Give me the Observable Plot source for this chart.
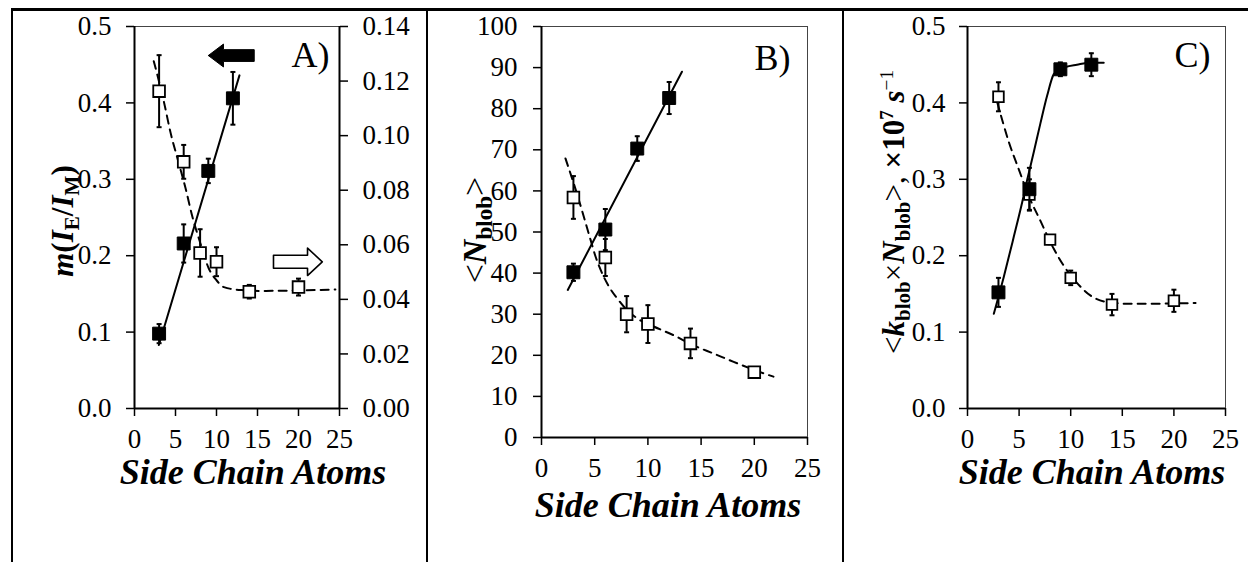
<!DOCTYPE html>
<html><head><meta charset="utf-8">
<script src="https://cdn.jsdelivr.net/npm/d3@7"></script>
<script src="https://cdn.jsdelivr.net/npm/@observablehq/plot@0.6"></script>
<style>
html,body{margin:0;padding:0;background:#fff;}
#wrap{position:relative;width:1248px;height:562px;overflow:hidden;font-family:"Liberation Serif","Times New Roman",serif;color:#000;background:#fff;}
.line{position:absolute;background:#000;z-index:3;}
.xt{position:absolute;font-weight:bold;font-style:italic;font-size:36px;line-height:1;white-space:nowrap;transform:translateX(-50%);z-index:2;}
.yt{position:absolute;line-height:1;white-space:nowrap;transform:translate(-50%,-50%) rotate(-90deg);z-index:2;}
.sb{font-size:0.68em;position:relative;top:0.28em;}
.sp{font-size:0.62em;position:relative;top:-0.55em;}
</style></head>
<body>
<div id="wrap">
  <div class="line" style="left:11px;top:8px;right:0;height:3px;"></div>
  <div class="line" style="left:11px;top:8px;width:2px;bottom:0;"></div>
  <div class="line" style="left:426px;top:8px;width:2px;bottom:0;"></div>
  <div class="line" style="left:842px;top:8px;width:2px;bottom:0;"></div>

  <div class="xt" style="left:253px;top:454px;">Side Chain Atoms</div>
  <div class="xt" style="left:668px;top:487px;">Side Chain Atoms</div>
  <div class="xt" style="left:1092px;top:454px;">Side Chain Atoms</div>

  <div class="yt" style="left:62px;top:221px;font-size:31px;"><b><i>m</i>(<i>I</i><span class="sb">E</span>/<i>I</i><span class="sb">M</span>)</b></div>
  <div class="yt" style="left:475px;top:230px;font-size:34px;">&lt;<b><i>N</i><span class="sb">blob</span></b>&gt;</div>
  <div class="yt" style="left:893px;top:212px;font-size:31px;">&lt;<b><i>k</i><span class="sb">blob</span></b>×<b><i>N</i><span class="sb">blob</span></b>&gt;, <b>×10<span class="sp">7</span></b> <b><i>s</i></b><span class="sp">−1</span></div>
</div>
<script>
// ---------- data ----------
const xTicks = [0, 5, 10, 15, 20, 25];
const filledX = [3, 6, 9, 12];
const openX = [3, 6, 8, 10, 14, 20];

// Panel A
const aLeftTicks = [0, 0.1, 0.2, 0.3, 0.4, 0.5];
const aRightTicks = [0, 0.02, 0.04, 0.06, 0.08, 0.10, 0.12, 0.14];
const aLeftMax = 0.5, aRightMax = 0.14;
const aFilled = [0.098, 0.216, 0.311, 0.406];
const aFilledErr = [0.0125, 0.025, 0.016, 0.0345];
const aOpen = [0.1163, 0.0904, 0.0570, 0.0538, 0.0428, 0.0445];
const aOpenErr = [0.0132, 0.0062, 0.0087, 0.0053, 0.0025, 0.0031];
const aSolidX = [2.97, 12.8];
const aSolidY = [0.083, 0.436];
const aDashX = [2.35, 3.57, 4.39, 5.4, 6.22, 7.03, 8.05, 9.06, 10.0, 10.9, 13.0, 15.45, 24.5];
const aDashY = [0.1273, 0.1126, 0.1012, 0.0899, 0.0808, 0.0706, 0.0604, 0.0513, 0.0470, 0.0445, 0.0434, 0.0431, 0.0436];
const blackArrowX = [9.0, 10.85, 10.85, 14.6, 14.6, 10.85, 10.85, 9.0];
const blackArrowY = [0.462, 0.477, 0.4697, 0.4697, 0.4543, 0.4543, 0.447, 0.462];
const whiteArrowX = [22.9, 21.1, 21.1, 16.95, 16.95, 21.1, 21.1, 22.9];
const whiteArrowY = [0.192, 0.210, 0.2006, 0.2006, 0.1836, 0.1836, 0.174, 0.192];

// Panel B
const bTicks = [0, 10, 20, 30, 40, 50, 60, 70, 80, 90, 100];
const bFilled = [40.2, 50.6, 70.3, 82.6];
const bFilledErr = [2.1, 5.0, 3.0, 3.9];
const bOpen = [58.4, 43.8, 30.0, 27.6, 22.9, 15.9];
const bOpenErr = [5.2, 4.5, 4.4, 4.6, 3.6, 1.0];
const bSolidX = [2.47, 13.2];
const bSolidY = [35.9, 89.0];
const bDashX = [2.25, 3.19, 4.6, 5.07, 5.54, 6.32, 7.1, 7.89, 8.98, 10.54, 12.4, 14.3, 16.2, 18.06, 20.56, 21.8];
const bDashY = [67.9, 60.5, 48.2, 44.1, 40.9, 36.8, 33.9, 31.4, 29.0, 27.0, 24.9, 22.4, 20.4, 18.4, 15.9, 14.8];

// Panel C
const cTicks = [0, 0.1, 0.2, 0.3, 0.4, 0.5];
const cFilled = [0.152, 0.287, 0.444, 0.450];
const cFilledErr = [0.019, 0.028, 0.009, 0.015];
const cOpen = [0.408, 0.280, 0.221, 0.171, 0.136, 0.141];
const cOpenErr = [0.019, 0.02, 0.006, 0.0095, 0.014, 0.0145];
const cSolidX = [2.55, 3.52, 4.49, 5.3, 5.78, 6.43, 7.07, 7.72, 8.36, 8.85, 9.5, 10.6, 11.9, 13.2];
const cSolidY = [0.124, 0.1725, 0.225, 0.27, 0.299, 0.336, 0.3735, 0.4096, 0.4377, 0.443, 0.447, 0.450, 0.4526, 0.4526];
const cDashX = [2.88, 4.0, 4.97, 5.94, 7.07, 8.36, 9.33, 10.6, 11.9, 13.5, 15.8, 22.1];
const cDashY = [0.401, 0.349, 0.313, 0.278, 0.2455, 0.209, 0.1868, 0.1645, 0.148, 0.1394, 0.137, 0.138];

// ---------- helpers ----------
const zip = (xs, ys, es) => xs.map((x, i) => ({x, y: ys[i], e: es ? es[i] : 0}));
const capSymbol = {draw(ctx, size) { const r = Math.sqrt(size / Math.PI); ctx.moveTo(-r, 0); ctx.lineTo(r, 0); }};
const FONT = "'Liberation Serif','Times New Roman',serif";
const wrap = document.getElementById("wrap");
const TF = 27;

function errMarks(data, sqR, filled) {
  return [
    Plot.ruleX(data, {x: "x", y1: d => d.y - d.e, y2: d => d.y + d.e, stroke: "black", strokeWidth: 2}),
    Plot.dot(data, {x: "x", y: d => d.y + d.e, symbol: capSymbol, r: 2.5, stroke: "black", strokeWidth: 2}),
    Plot.dot(data, {x: "x", y: d => d.y - d.e, symbol: capSymbol, r: 2.5, stroke: "black", strokeWidth: 2}),
    Plot.dot(data, {x: "x", y: "y", symbol: "square", r: sqR, fill: filled ? "black" : "white", stroke: "black", strokeWidth: filled ? 1 : 1.8})
  ];
}

function panel(cfg) {
  const svg = Plot.plot({
    width: cfg.width, height: 562,
    marginLeft: cfg.ml, marginRight: cfg.mr, marginTop: cfg.mt, marginBottom: cfg.mb,
    x: {domain: [0, 25]},
    y: {domain: cfg.yDomain},
    style: {fontFamily: FONT, fontSize: TF + "px", color: "black", background: "transparent"},
    marks: [
      Plot.frame({stroke: "#444", strokeWidth: 1}),
      ...cfg.marks,
      Plot.ruleX([0], {stroke: "black", strokeWidth: 2}),
      Plot.ruleY([cfg.yDomain[0]], {stroke: "black", strokeWidth: 2}),
      Plot.axisX(xTicks, {label: null, tickSize: 8, tickPadding: cfg.xPad, fontSize: TF, fontFamily: FONT, strokeWidth: 1.5, tickFormat: d => String(d)}),
      Plot.axisY(cfg.yTicks, {label: null, tickSize: 8, tickPadding: cfg.yPad, fontSize: TF, fontFamily: FONT, strokeWidth: 1.5, tickFormat: cfg.yFormat}),
      ...(cfg.extra || []),
      Plot.text([cfg.letter], {frameAnchor: "top-right", dx: cfg.ldx, dy: cfg.ldy, fontSize: 36, fontFamily: FONT, fill: "black"})
    ]
  });
  svg.style.position = "absolute";
  svg.style.left = cfg.left + "px";
  svg.style.top = "0px";
  wrap.appendChild(svg);
}

// ---------- Panel A ----------
const k = aLeftMax / aRightMax;
const aF = zip(filledX, aFilled, aFilledErr);
const aO = zip(openX, aOpen.map(v => v * k), aOpenErr.map(v => v * k));
const aS = zip(aSolidX, aSolidY);
const aD = zip(aDashX, aDashY.map(v => v * k));
const bArr = zip(blackArrowX, blackArrowY);
const wArr = zip(whiteArrowX, whiteArrowY);
panel({
  left: 14, width: 411, ml: 120, mr: 86, mt: 26, mb: 154,
  yDomain: [0, 0.5], yTicks: aLeftTicks, yFormat: d3.format(".1f"), yPad: 15, xPad: 12,
  letter: "A)", ldx: -10, ldy: 15,
  marks: [
    Plot.line(aD, {x: "x", y: "y", curve: "monotone-x", stroke: "black", strokeWidth: 2, strokeDasharray: "8,6"}),
    ...errMarks(aO, 6.6, false),
    Plot.line(aS, {x: "x", y: "y", stroke: "black", strokeWidth: 2}),
    ...errMarks(aF, 7.3, true),
    Plot.line(bArr, {x: "x", y: "y", fill: "black", stroke: "black", strokeWidth: 1}),
    Plot.line(wArr, {x: "x", y: "y", fill: "white", stroke: "black", strokeWidth: 1.6})
  ],
  extra: [
    Plot.ruleX([25], {stroke: "black", strokeWidth: 2}),
    Plot.axisY(aRightTicks.map(v => v * k), {anchor: "right", label: null, tickSize: 8, tickPadding: 15, fontSize: TF, fontFamily: FONT, strokeWidth: 1.5, tickFormat: d => (d / k).toFixed(2)})
  ]
});

// ---------- Panel B ----------
panel({
  left: 429, width: 412, ml: 112, mr: 34, mt: 26, mb: 125,
  yDomain: [0, 100], yTicks: bTicks, yFormat: d => String(d), yPad: 16, xPad: 12,
  letter: "B)", ldx: -17, ldy: 18,
  marks: [
    Plot.line(zip(bDashX, bDashY), {x: "x", y: "y", curve: "monotone-x", stroke: "black", strokeWidth: 2, strokeDasharray: "8,6"}),
    ...errMarks(zip(openX, bOpen, bOpenErr), 6.6, false),
    Plot.line(zip(bSolidX, bSolidY), {x: "x", y: "y", stroke: "black", strokeWidth: 2}),
    ...errMarks(zip(filledX, bFilled, bFilledErr), 7.3, true)
  ]
});

// ---------- Panel C ----------
panel({
  left: 845, width: 403, ml: 122, mr: 23, mt: 26, mb: 154,
  yDomain: [0, 0.5], yTicks: cTicks, yFormat: d3.format(".1f"), yPad: 14, xPad: 12,
  letter: "C)", ldx: -15, ldy: 15,
  marks: [
    Plot.line(zip(cDashX, cDashY), {x: "x", y: "y", curve: "monotone-x", stroke: "black", strokeWidth: 2, strokeDasharray: "8,6"}),
    ...errMarks(zip(openX, cOpen, cOpenErr), 6.0, false),
    Plot.line(zip(cSolidX, cSolidY), {x: "x", y: "y", curve: "monotone-x", stroke: "black", strokeWidth: 2}),
    ...errMarks(zip(filledX, cFilled, cFilledErr), 7.3, true)
  ]
});
</script>
</body></html>
